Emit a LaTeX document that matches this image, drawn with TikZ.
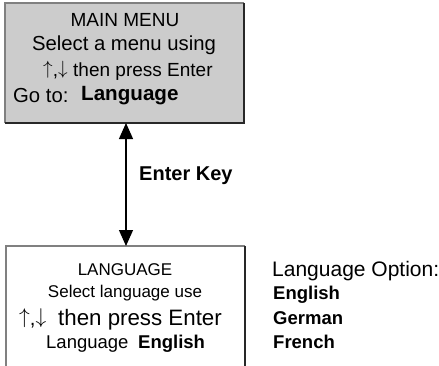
\documentclass[tikz,border=0pt]{standalone}
\usepackage{fontspec}
\usepackage{graphicx}
\setmainfont{Liberation Sans}
\usetikzlibrary{arrows.meta}
\definecolor{panelgray}{RGB}{204,204,204}
\definecolor{edgelight}{RGB}{128,128,128}
\definecolor{edgedark}{RGB}{40,40,40}
% thin up/down arrow pair of a given glyph height
\newcommand{\updown}[1]{\raisebox{2pt}{\resizebox*{!}{#1}{$\uparrow$}},\raisebox{2pt}{\resizebox*{!}{#1}{$\downarrow$}}}
\tikzset{
  big/.style={font=\fontsize{20.3}{24}\selectfont, inner sep=0pt},
  mid/.style={font=\fontsize{19}{22}\selectfont, inner sep=0pt},
  small/.style={font=\fontsize{17}{20}\selectfont, inner sep=0pt},
  bigbold/.style={font=\fontsize{20.6}{24}\selectfont\bfseries, inner sep=0pt},
  optbold/.style={font=\fontsize{18.5}{22}\selectfont\bfseries, inner sep=0pt},
  link/.style={line width=1.2pt, {Triangle[width=14pt,length=16pt]}-{Triangle[width=14pt,length=16pt]}}
}
\begin{document}
\begin{tikzpicture}[x=1pt,y=-1pt]
\useasboundingbox (0,0) rectangle (439,365);
\clip (0,0) rectangle (439,365);

% main menu panel with raised edges
\fill[panelgray] (5,3) rectangle (244,123);
\draw[edgelight, line width=1.4pt] (5,123) -- (5,3) -- (244,3);
\draw[edgedark, line width=1.6pt] (244,3) -- (244,123) -- (5,123);
\coordinate (mainS) at (126,123);

\node[mid] (m1) at (125,20) {MAIN MENU};
\node[big] (m2) at (124,45) {Select a menu using};
\node[mid, anchor=base west] (m3a) at (43,76) {\updown{17pt}};
\node[mid, anchor=base west] (m3b) at (73,76) {then press Enter};
\node[big, anchor=west] (m4a) at (13,96) {Go to:};
\node[bigbold, anchor=west] (m4b) at (81,96) {Language};

% language panel, running past the lower edge
\draw[edgelight, line width=1.4pt] (6,380) -- (6,246) -- (245,246);
\draw[edgedark, line width=1.2pt] (245,246) -- (245,380);
\coordinate (langN) at (126,246);

\node[small] (l1) at (125,270) {LANGUAGE};
\node[small] (l2) at (125,293) {Select language use};
\node[big, anchor=base west] (l3a) at (19,325) {\updown{19pt}};
\node[big, anchor=base west, font=\fontsize{22.3}{26}\selectfont] (l3b) at (58,325) {then press Enter};
\node[small, anchor=west, font=\fontsize{18.5}{22}\selectfont] (l4a) at (46,344) {Language};
\node[optbold, anchor=west] (l4b) at (138,344) {English};

% transition between the two menus
\draw[link] (mainS) -- (langN);
\node[bigbold, anchor=west, font=\fontsize{20}{24}\selectfont\bfseries] (key) at (139,176) {Enter Key};

% available options
\node[big, anchor=west, font=\fontsize{21}{24}\selectfont] (o1) at (272,271) {Language Option:};
\node[optbold, anchor=west] (o2) at (273,295) {English};
\node[optbold, anchor=west] (o3) at (273,318) {German};
\node[optbold, anchor=west] (o4) at (273,342) {French};
\end{tikzpicture}
\end{document}
